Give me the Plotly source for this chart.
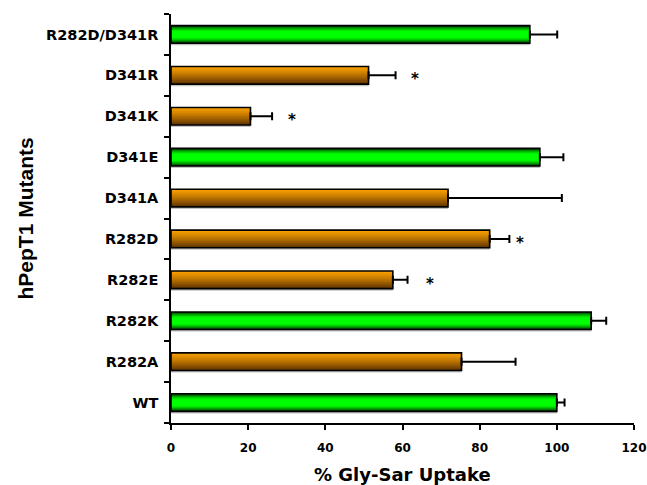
import plotly.graph_objects as go

# ---- data (bottom to top) ----
mutants = ["WT", "R282A", "R282K", "R282E", "R282D", "D341A", "D341E", "D341K", "D341R", "R282D/D341R"]
uptake = [100.0, 75.3, 108.9, 57.5, 82.6, 71.8, 95.6, 20.6, 51.2, 93.0]
sem = [2.0, 14.0, 3.9, 3.8, 5.1, 29.5, 6.1, 5.6, 7.0, 7.1]
group = ["green", "orange", "green", "orange", "orange", "orange", "green", "orange", "orange", "green"]
star_mutants = ["D341R", "D341K", "R282D", "R282E"]
star_x = [63.2, 31.4, 90.5, 67.0]
x_ticks = [0, 20, 40, 60, 80, 100, 120]

BAR_W = 0.43
N = 16

def green_col(d):
    f = max(0.0, (d - 0.35) / 0.65) ** 1.4
    g = 255 * (1 - 0.8 * f)
    return f"rgb(0,{int(g)},0)"

def orange_col(t):
    f = t ** 1.3
    c0 = (248, 158, 0)
    c1 = (90, 48, 0)
    r, g, b = [int(c0[i] + (c1[i] - c0[i]) * f) for i in range(3)]
    return f"rgb({r},{g},{b})"

fig = go.Figure()

# shadow
fig.add_trace(go.Bar(
    y=mutants, x=uptake, orientation="h",
    width=BAR_W, offset=-BAR_W / 2 - 0.05,
    marker=dict(color="rgb(195,195,195)", line=dict(width=0)),
    hoverinfo="skip", showlegend=False))

# gradient levels
for k in range(N):
    frac = 1 - k / N
    w = BAR_W * frac
    cols, offs = [], []
    for grp in group:
        if grp == "green":
            cols.append(green_col(frac))
            offs.append(-w / 2)
        else:
            cols.append(orange_col(1 - k / N - 0.5 / N))
            offs.append(BAR_W / 2 - w)
    fig.add_trace(go.Bar(
        y=mutants, x=uptake, orientation="h",
        width=w, offset=offs,
        marker=dict(color=cols, line=dict(width=0)),
        hoverinfo="skip", showlegend=False))

# outline + error bars
fig.add_trace(go.Bar(
    y=mutants, x=uptake, orientation="h",
    width=BAR_W, offset=-BAR_W / 2,
    marker=dict(color="rgba(0,0,0,0)", line=dict(color="black", width=1.6)),
    error_x=dict(type="data", array=sem, arrayminus=[0] * len(sem), symmetric=False,
                 color="black", thickness=2, width=4),
    showlegend=False))

for m, sx in zip(star_mutants, star_x):
    fig.add_annotation(x=sx, y=m, xref="x", yref="y", text="<b>*</b>", showarrow=False,
                       font=dict(family="DejaVu Sans", size=15, color="black"),
                       yshift=-4)

fig.add_annotation(x=0.5, xref="paper", y=-(462 - 423) / 409, yref="paper",
                   text="<b>% Gly-Sar Uptake</b>", showarrow=False, yanchor="top",
                   font=dict(family="DejaVu Sans", size=18, color="black"))
fig.add_annotation(x=(25 - 171) / 463, xref="paper", y=0.5, yref="paper",
                   text="<b>hPepT1 Mutants</b>", showarrow=False, textangle=-90,
                   xanchor="center", yanchor="middle",
                   font=dict(family="Liberation Sans", size=21, color="black"))

fig.update_layout(
    width=647, height=485,
    margin=dict(l=171, r=13, t=14, b=62, autoexpand=False),
    paper_bgcolor="white", plot_bgcolor="white",
    barmode="overlay",
    font=dict(family="DejaVu Sans", color="black"),
    xaxis=dict(range=[0, 120], tickvals=x_ticks, ticktext=[f"<b>{v}</b>" for v in x_ticks],
               ticks="outside", ticklen=5, tickwidth=1.5, tickcolor="black",
               showline=True, linecolor="black", linewidth=1.5, showgrid=False,
               zeroline=False, tickfont=dict(family="DejaVu Sans", size=12, color="black"),
               ticklabelstandoff=8, ticklabeloverflow="allow", automargin=False),
    yaxis=dict(type="category", categoryorder="array", categoryarray=mutants,
               range=[-0.5, len(mutants) - 0.5],
               tickvals=mutants, ticktext=[f"<b>{m}</b>" for m in mutants],
               ticks="outside", ticklen=5, tickwidth=1.5, tickcolor="black", tickson="boundaries",
               showline=True, linecolor="black", linewidth=1.5, showgrid=False,
               zeroline=False, tickfont=dict(family="DejaVu Sans", size=14.5, color="black"),
               ticklabelstandoff=8, automargin=False),
)

fig.write_html("out.html", config={"displayModeBar": False},
               post_script="document.body.style.margin='0';document.body.style.overflow='hidden';")
